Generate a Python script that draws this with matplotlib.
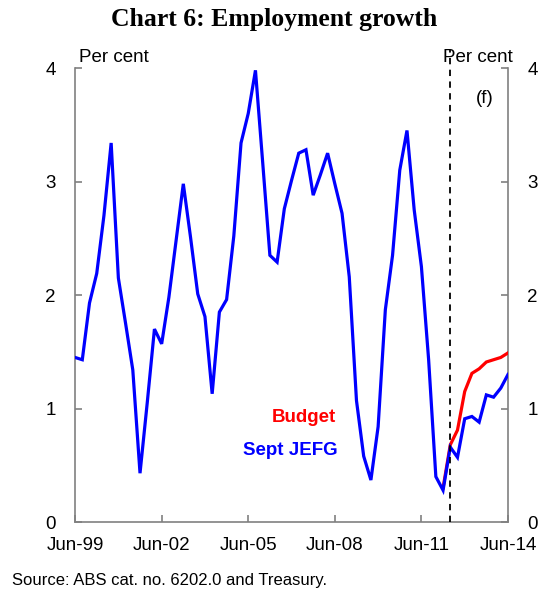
import matplotlib
matplotlib.use('Agg')
import matplotlib.pyplot as plt

plt.rcParams['font.family'] = ['Liberation Sans', 'DejaVu Sans']

# Quarterly employment growth (through-the-year, per cent), Jun-99 .. Jun-14
QUARTERS_FROM_JUN99 = list(range(61))
SEPT_JEFG = [
    1.45, 1.43, 1.93, 2.19, 2.70, 3.34, 2.15, 1.75, 1.34, 0.43,
    1.05, 1.70, 1.57, 1.98, 2.48, 2.98, 2.51, 2.01, 1.81, 1.13,
    1.85, 1.96, 2.52, 3.34, 3.60, 3.98, 3.17, 2.35, 2.29, 2.76,
    3.01, 3.25, 3.28, 2.88, 3.06, 3.25, 2.98, 2.72, 2.16, 1.07,
    0.58, 0.37, 0.84, 1.87, 2.35, 3.10, 3.45, 2.75, 2.25, 1.43,
    0.40, 0.28, 0.66, 0.57, 0.91, 0.93, 0.88, 1.12, 1.10, 1.18,
    1.30,
]
BUDGET_START = 51
BUDGET = [0.30, 0.68, 0.81, 1.15, 1.31, 1.35, 1.41, 1.43, 1.45, 1.49]

FORECAST_START = 52
TICK_POS = [0, 12, 24, 36, 48, 60]
TICK_LABELS = ['Jun-99', 'Jun-02', 'Jun-05', 'Jun-08', 'Jun-11', 'Jun-14']
Y_TICKS = [0, 1, 2, 3, 4]

FS = 13.5

fig = plt.figure(figsize=(5.48, 5.97), dpi=100)
ax = fig.add_axes([0.137, 0.1256, 0.79, 0.7604])

budget_x = QUARTERS_FROM_JUN99[BUDGET_START:BUDGET_START + len(BUDGET)]
ax.plot(budget_x, BUDGET, color='#ff0000', linewidth=2.3,
        solid_joinstyle='miter', zorder=3)
ax.plot(QUARTERS_FROM_JUN99, SEPT_JEFG, color='#0000ff', linewidth=2.3,
        solid_joinstyle='miter', zorder=4)

# forecast divider runs a little above the plot area
ax.plot([FORECAST_START, FORECAST_START], [0, 1.04],
        transform=ax.get_xaxis_transform(), color='black',
        linestyle=(0, (3.5, 3)), linewidth=1.3, clip_on=False, zorder=5)

ax.set_xlim(0, 60)
ax.set_ylim(0, 4)
ax.set_xticks(TICK_POS)
ax.set_xticklabels(TICK_LABELS)
ax.set_yticks(Y_TICKS)

ax.spines['top'].set_visible(False)
for side in ('left', 'right', 'bottom'):
    ax.spines[side].set_color('#808080')
    ax.spines[side].set_linewidth(1.2)

ax.tick_params(axis='both', direction='in', length=5, width=1.2,
               color='#808080', labelsize=FS)
ax.tick_params(axis='y', left=True, right=True, labelleft=True,
               labelright=True, pad=14)
ax.tick_params(axis='x', pad=11)

ax.text(0.01, 1.005, 'Per cent', transform=ax.transAxes, fontsize=FS,
        ha='left', va='bottom')
ax.text(1.01, 1.005, 'Per cent', transform=ax.transAxes, fontsize=FS,
        ha='right', va='bottom')
ax.text(56.8, 3.73, '(f)', fontsize=FS, ha='center', va='center')

ax.text(36.2, 0.92, 'Budget', color='#ff0000', fontsize=FS,
        fontweight='bold', ha='right', va='center')
ax.text(36.4, 0.63, 'Sept JEFG', color='#0000ff', fontsize=FS,
        fontweight='bold', ha='right', va='center')

fig.text(0.5, 0.968, 'Chart 6: Employment growth', ha='center',
         va='center', fontsize=18.5, fontweight='bold',
         family=['Liberation Serif', 'DejaVu Serif'])
fig.text(0.022, 0.027, 'Source: ABS cat. no. 6202.0 and Treasury.',
         ha='left', va='center', fontsize=12)

fig.savefig('out.png', dpi=100)
